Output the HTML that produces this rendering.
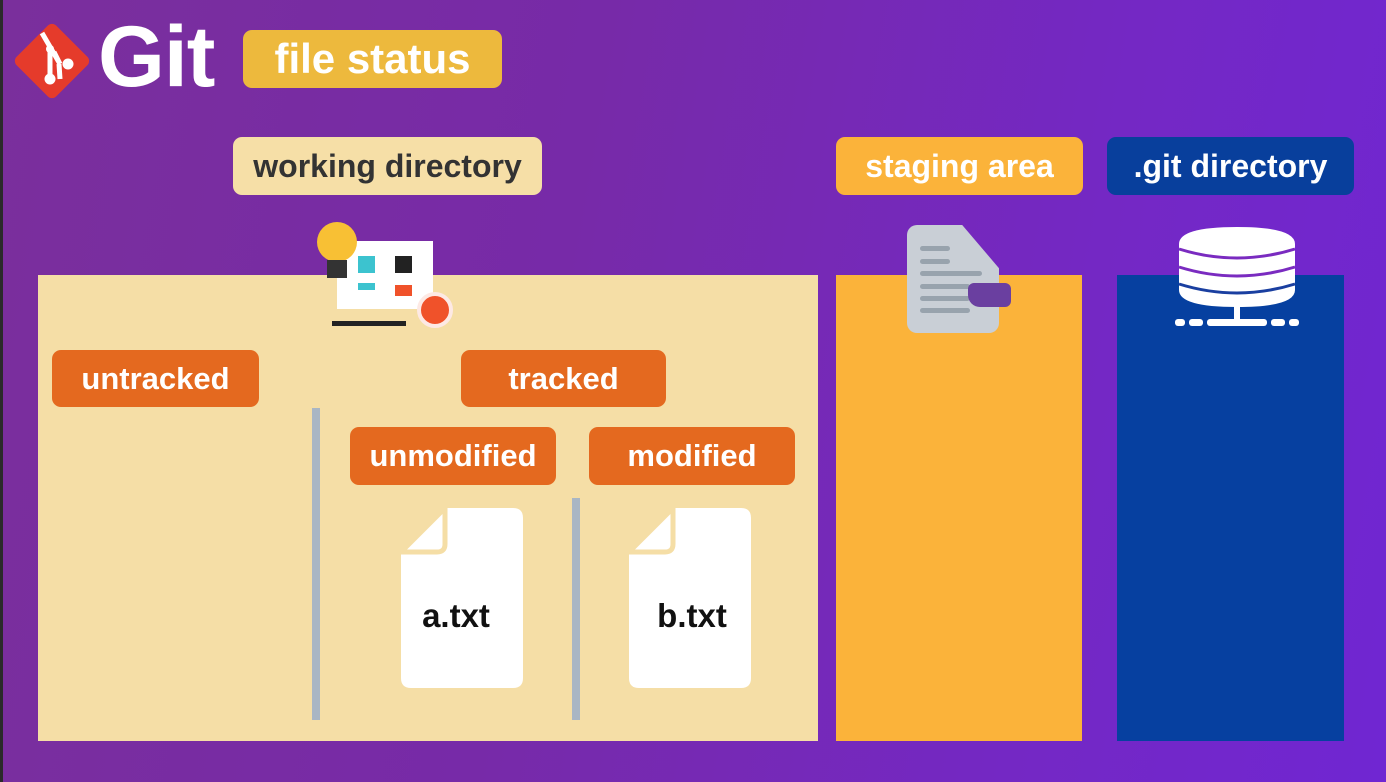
<!DOCTYPE html>
<html><head><meta charset="utf-8"><style>
body{margin:0;width:1386px;height:782px;overflow:hidden;background:linear-gradient(100deg,#7a2f9c 0%,#772aa8 40%,#7428c4 75%,#7026d2 100%);font-family:"Liberation Sans",sans-serif;position:relative}
div,svg{position:absolute;box-sizing:border-box}
.lbl{display:flex;align-items:center;justify-content:center;font-weight:bold;border-radius:9px}
.or{background:#e4691f;color:#fff;font-size:31px}
.ftxt{font-weight:bold;font-size:33px;color:#111;width:122px;text-align:center}
</style></head><body>
<div style="left:0;top:0;width:3px;height:782px;background:#2a2a2a"></div>
<svg style="left:10px;top:19px" width="84" height="84" viewBox="0 0 84 84">
<rect x="14" y="14" width="56" height="56" rx="6" fill="#e53b2b" transform="rotate(45 42 42)"/>
<path d="M32 14 L50 45 M49 45 L50 60 M44 33 L50 45" stroke="#fff" stroke-width="5" fill="none"/>
<path d="M40 30 L40 60" stroke="#fff" stroke-width="5"/>
<circle cx="40" cy="60" r="5.5" fill="#fff"/><circle cx="58" cy="45" r="5.5" fill="#fff"/><circle cx="40" cy="30" r="4" fill="#fff"/>
</svg>
<div style="left:98px;top:12px;font-size:86px;font-weight:bold;color:#fff;line-height:90px;letter-spacing:-1px">Git</div>
<div class="lbl" style="left:243px;top:30px;width:259px;height:58px;background:#edb93d;color:#fff;font-size:42px">file status</div>
<div class="lbl" style="left:233px;top:137px;width:309px;height:58px;background:#f6dfa7;color:#333;font-size:32px">working directory</div>
<div class="lbl" style="left:836px;top:137px;width:247px;height:58px;background:#fbb33a;color:#fff;font-size:32px">staging area</div>
<div class="lbl" style="left:1107px;top:137px;width:247px;height:58px;background:#083f9c;color:#fff;font-size:32px">.git directory</div>
<div style="left:38px;top:275px;width:780px;height:466px;background:#f5dea6"></div>
<div style="left:836px;top:275px;width:246px;height:466px;background:#fbb33a"></div>
<div style="left:1117px;top:275px;width:227px;height:466px;background:#0640a0"></div>
<!-- illustration -->
<div style="left:337px;top:241px;width:96px;height:68px;background:#fff"></div>
<div style="left:358px;top:256px;width:17px;height:17px;background:#3cc3cf"></div>
<div style="left:358px;top:283px;width:17px;height:7px;background:#3cc3cf"></div>
<div style="left:395px;top:256px;width:17px;height:17px;background:#222"></div>
<div style="left:395px;top:285px;width:17px;height:11px;background:#f0522a"></div>
<div style="left:317px;top:222px;width:40px;height:40px;border-radius:50%;background:#f8c034"></div>
<div style="left:327px;top:260px;width:20px;height:18px;background:#333"></div>
<div style="left:417px;top:292px;width:36px;height:36px;border-radius:50%;background:#f0522a;border:4px solid #fde9e4"></div>
<div style="left:332px;top:321px;width:74px;height:5px;background:#222"></div>
<!-- doc icon -->
<div style="left:907px;top:225px;width:92px;height:108px;background:#c9cfd6;border-radius:10px;clip-path:polygon(0 0,60% 0,100% 40%,100% 100%,0 100%)"></div>
<div style="left:920px;top:246px;width:30px;height:5px;background:#98a3ad;border-radius:3px"></div>
<div style="left:920px;top:259px;width:30px;height:5px;background:#98a3ad;border-radius:3px"></div>
<div style="left:920px;top:271px;width:62px;height:5px;background:#98a3ad;border-radius:3px"></div>
<div style="left:920px;top:284px;width:50px;height:5px;background:#98a3ad;border-radius:3px"></div>
<div style="left:920px;top:296px;width:50px;height:5px;background:#98a3ad;border-radius:3px"></div>
<div style="left:920px;top:308px;width:50px;height:5px;background:#98a3ad;border-radius:3px"></div>
<div style="left:968px;top:283px;width:43px;height:24px;background:#6a3fa0;border-radius:6px 6px 6px 12px"></div>
<!-- db icon -->
<svg style="left:1170px;top:222px" width="135" height="110" viewBox="0 0 135 110">
<path d="M9 22 Q9 5 67 5 Q125 5 125 22 V68 Q125 85 67 85 Q9 85 9 68Z" fill="#fff"/>
<path d="M9 27 Q67 45 125 27 M9 45 Q67 63 125 45" stroke="#7a2bc0" stroke-width="3" fill="none"/>
<path d="M9 62 Q67 80 125 62" stroke="#1a3fa0" stroke-width="3" fill="none"/>
<rect x="64" y="84" width="6" height="18" fill="#fff"/>
<g fill="#fff"><rect x="5" y="97" width="10" height="7" rx="3"/><rect x="19" y="97" width="14" height="7" rx="3"/><rect x="37" y="97" width="60" height="7" rx="3"/><rect x="101" y="97" width="14" height="7" rx="3"/><rect x="119" y="97" width="10" height="7" rx="3"/></g>
</svg>
<div class="lbl or" style="left:52px;top:350px;width:207px;height:57px">untracked</div>
<div class="lbl or" style="left:461px;top:350px;width:205px;height:57px">tracked</div>
<div class="lbl or" style="left:350px;top:427px;width:206px;height:58px">unmodified</div>
<div class="lbl or" style="left:589px;top:427px;width:206px;height:58px">modified</div>
<div style="left:312px;top:408px;width:8px;height:312px;background:#a9b6c4"></div>
<div style="left:572px;top:498px;width:8px;height:222px;background:#a9b6c4"></div>
<svg style="left:401px;top:508px" width="122" height="180" viewBox="0 0 122 180">
<path d="M44 0 H112 Q122 0 122 10 V170 Q122 180 112 180 H10 Q0 180 0 170 V44 Z" fill="#fff"/>
<path d="M44 0 V36 Q44 44 36 44 H0 Z" fill="#fff" stroke="#f5dea6" stroke-width="5" stroke-linejoin="round"/>
</svg>
<div class="ftxt" style="left:395px;top:597px">a.txt</div>
<svg style="left:629px;top:508px" width="122" height="180" viewBox="0 0 122 180">
<path d="M44 0 H112 Q122 0 122 10 V170 Q122 180 112 180 H10 Q0 180 0 170 V44 Z" fill="#fff"/>
<path d="M44 0 V36 Q44 44 36 44 H0 Z" fill="#fff" stroke="#f5dea6" stroke-width="5" stroke-linejoin="round"/>
</svg>
<div class="ftxt" style="left:631px;top:597px">b.txt</div>
</body></html>
